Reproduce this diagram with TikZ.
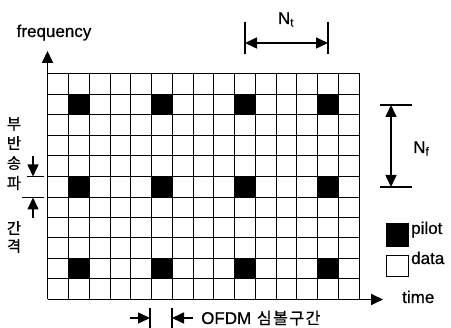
\documentclass[tikz,border=0pt]{standalone}
\usepackage{fontspec}
\setmainfont{Liberation Sans}[FakeBold=0.6]
\newfontfamily\kr{Noto Sans CJK KR}[FakeBold=0.6]
\usetikzlibrary{arrows.meta}
\begin{document}
\begin{tikzpicture}[x=1pt,y=-1pt,
  lbl/.style={font=\fontsize{17}{17}\selectfont, inner sep=0pt},
  krl/.style={font=\kr\fontsize{15.5}{15.5}\selectfont, inner sep=0pt},
  gridline/.style={line width=1.5pt},
  axis/.style={line width=1.8pt, -{Triangle[length=12pt,width=11pt]}},
  dimline/.style={line width=1.6pt, {Triangle[length=12pt,width=11pt]}-{Triangle[length=12pt,width=11pt]}},
  onearrow/.style={line width=1.6pt, -{Triangle[length=12pt,width=11pt]}},
  bar/.style={line width=1.3pt},
  pilotcell/.style={fill=black},
]
\useasboundingbox (0,0) rectangle (451,328);
% grid
\foreach \x in {47.5,68.5,89.5,110.5,130.5,151.5,172.5,193.5,213.5,234.5,255.5,276.5,296.5,317.5,338.5,359.5}
  \draw[gridline] (\x,73.5) -- (\x,299.5);
\foreach \y in {73.5,94.5,114.5,135.5,155.5,176.5,197.5,217.5,237.5,258.5,278.5,299.5}
  \draw[gridline] (47.5,\y) -- (359.5,\y);
\foreach \xa/\xb in {68.5/89.5,151.5/172.5,234.5/255.5,317.5/338.5}
  \foreach \ya/\yb in {94.5/114.5,176.5/197.5,258.5/278.5}
    \fill[pilotcell] (\xa,\ya) rectangle (\xb,\yb);
% axes
\coordinate (o) at (47.5,299.5);
\coordinate (ytip) at (47.5,51);
\coordinate (xtip) at (383,299.5);
\draw[axis] (o) -- (ytip);
\draw[axis] (o) -- (xtip);
\node[lbl, anchor=base] (freq) at (54,37) {frequency};
\node[lbl, anchor=base west] (time) at (402,303) {time};
% N_t
\coordinate (nt1a) at (245,22); \coordinate (nt1b) at (245,54);
\coordinate (nt2a) at (328,22); \coordinate (nt2b) at (328,54);
\draw[bar] (nt1a) -- (nt1b);
\draw[bar] (nt2a) -- (nt2b);
\coordinate (ntl) at (245,43); \coordinate (ntr) at (328,43);
\draw[dimline] (ntl) -- (ntr);
\node[lbl, anchor=base] (nt) at (286,24) {N$_{\mathrm{t}}$};
% N_f
\coordinate (nf1a) at (380,105); \coordinate (nf1b) at (412,105);
\coordinate (nf2a) at (380,187); \coordinate (nf2b) at (412,187);
\draw[bar] (nf1a) -- (nf1b);
\draw[bar] (nf2a) -- (nf2b);
\coordinate (nft) at (391,105); \coordinate (nfb) at (391,187);
\draw[dimline] (nft) -- (nfb);
\node[lbl, anchor=base west] (nf) at (413,153) {N$_{\mathrm{f}}$};
% left subcarrier spacing
\node[krl] (k1) at (14,124) {부};
\node[krl] (k2) at (14,143) {반};
\node[krl] (k3) at (14,163) {송};
\node[krl] (k4) at (14,183) {파};
\node[krl] (k5) at (14,228) {간};
\node[krl] (k6) at (14,246) {격};
\coordinate (sa) at (27,176.5); \coordinate (sb) at (44,176.5);
\coordinate (sc) at (22,197.5); \coordinate (sd) at (44,197.5);
\draw[bar] (sa) -- (sb);
\draw[bar] (sc) -- (sd);
\coordinate (da0) at (33,156); \coordinate (da1) at (33,176.5);
\coordinate (ua0) at (33,218); \coordinate (ua1) at (33,197.5);
\draw[onearrow] (da0) -- (da1);
\draw[onearrow] (ua0) -- (ua1);
% bottom OFDM symbol
\coordinate (b1a) at (150,308); \coordinate (b1b) at (150,328);
\coordinate (b2a) at (172,308); \coordinate (b2b) at (172,328);
\draw[bar] (b1a) -- (b1b);
\draw[bar] (b2a) -- (b2b);
\coordinate (la0) at (130,318); \coordinate (la1) at (150,318);
\coordinate (ra0) at (193,318); \coordinate (ra1) at (172,318);
\draw[onearrow] (la0) -- (la1);
\draw[onearrow] (ra0) -- (ra1);
\node[lbl, anchor=base west] (ofdm) at (201,324) {OFDM {\kr\fontsize{16}{16}\selectfont\hspace{1pt}심\hspace{1.5pt}볼\hspace{1.5pt}구\hspace{1.5pt}간}};
% legend
\draw[fill=black, line width=1pt] (386,224) rectangle (408,247);
\node[lbl, anchor=base west] (pilot) at (411,234) {pilot};
\draw[line width=1pt] (386,256) rectangle (408,277);
\node[lbl, anchor=base west] (data) at (411,264) {data};
\end{tikzpicture}
\end{document}
